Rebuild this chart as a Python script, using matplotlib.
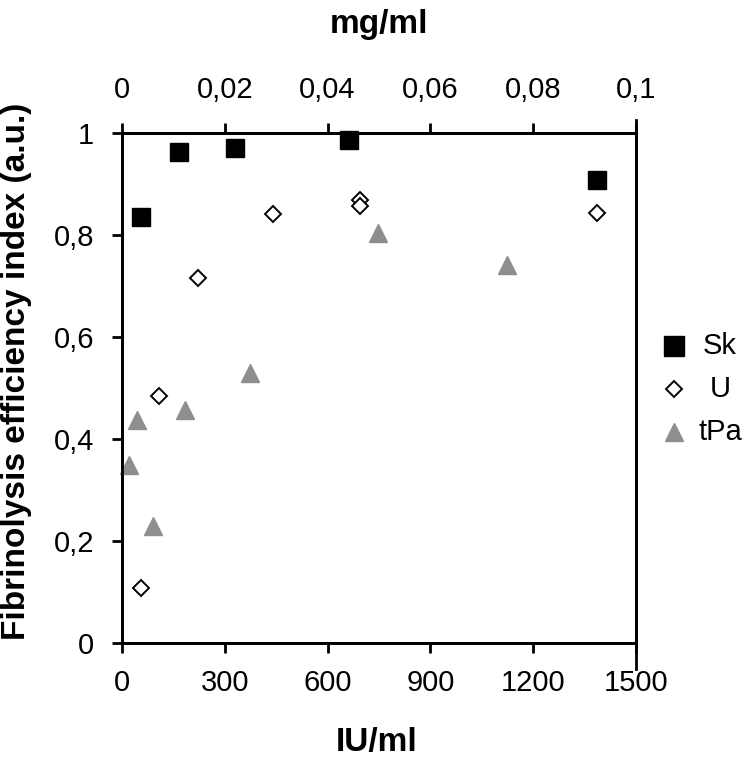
import matplotlib.pyplot as plt
from matplotlib.ticker import FuncFormatter
from matplotlib.lines import Line2D

# readings (x in IU/ml, y in a.u.)
sk_x = [55, 165, 331, 663, 1385]
sk_y = [0.835, 0.962, 0.971, 0.986, 0.908]

u_x = [56, 109, 221, 442, 695, 695, 1385]
u_y = [0.108, 0.485, 0.715, 0.841, 0.869, 0.857, 0.843]

tpa_x = [21, 45, 90, 184, 374, 748, 1123]
tpa_y = [0.349, 0.437, 0.229, 0.456, 0.530, 0.803, 0.741]

x_ticks = [0, 300, 600, 900, 1200, 1500]
top_ticks = [0, 0.02, 0.04, 0.06, 0.08, 0.1]
y_ticks = [0, 0.2, 0.4, 0.6, 0.8, 1.0]

legend_labels = ["Sk", "U", "tPa"]

plt.rcParams['font.family'] = ['Liberation Sans', 'DejaVu Sans']
FS = 21        # tick labels / legend
TITLE_FS = 24  # axis titles
GREY = '#8e8e8e'


def comma(v, pos=None):
    s = f"{v:.2f}".rstrip('0').rstrip('.')
    return s.replace('.', ',')


fig = plt.figure(figsize=(7.5, 7.57), dpi=100)
ax = fig.add_axes([122 / 750, 1 - 643 / 757, 514 / 750, 510 / 757])

ax.plot(sk_x, sk_y, linestyle='none', marker='s', markersize=13.5,
        color='black', clip_on=False, zorder=3)
ax.plot(u_x, u_y, linestyle='none', marker='D', markersize=8.5,
        markerfacecolor='white', markeredgecolor='black', markeredgewidth=1.4,
        clip_on=False, zorder=3)
ax.plot(tpa_x, tpa_y, linestyle='none', marker='^', markersize=13,
        color=GREY, clip_on=False, zorder=3)

ax.set_xlim(0, 1500)
ax.set_ylim(0, 1)
ax.set_xticks(x_ticks)
ax.set_yticks(y_ticks)
ax.yaxis.set_major_formatter(FuncFormatter(comma))
ax.tick_params(axis='x', direction='out', length=7, width=2, pad=12, labelsize=FS)
ax.tick_params(axis='y', direction='out', length=7, width=2, pad=13, labelsize=FS)
for sp in ax.spines.values():
    sp.set_linewidth(2)

top = ax.twiny()
top.set_xlim(0, 0.1)
top.set_xticks(top_ticks)
top.xaxis.set_major_formatter(FuncFormatter(comma))
top.tick_params(axis='x', direction='out', length=7, width=2, pad=14, labelsize=FS)
for sp in top.spines.values():
    sp.set_linewidth(2)

# right axis line runs a little past both horizontal axes, as in the reference
ax.add_line(Line2D([1, 1], [-0.05, 1.025], transform=ax.transAxes,
                   color='black', linewidth=2, clip_on=False))

fig.text(379 / 750, 1 - 24 / 757, "mg/ml", ha='center', va='center',
         fontsize=TITLE_FS, fontweight='bold')
fig.text(377 / 750, 1 - 743 / 757, "IU/ml", ha='center', va='center',
         fontsize=TITLE_FS, fontweight='bold')
fig.text(17 / 750, 1 - 371 / 757, "Fibrinolysis efficiency index (a.u.)",
         ha='center', va='center', rotation=90, fontsize=TITLE_FS,
         fontweight='bold')

# legend drawn by hand so the labels sit centred like the original
handles = [
    dict(marker='s', markersize=14, color='black'),
    dict(marker='D', markersize=8.5, markerfacecolor='white',
         markeredgecolor='black', markeredgewidth=1.4),
    dict(marker='^', markersize=13, color=GREY),
]
for i, (lab, h) in enumerate(zip(legend_labels, handles)):
    yy = 1 - (346 + i * 43) / 757
    fig.add_artist(Line2D([674 / 750], [yy], transform=fig.transFigure,
                          linestyle='none', **h))
    fig.text(720 / 750, yy, lab, ha='center', va='center', fontsize=FS)

fig.savefig('out.png', dpi=100)
